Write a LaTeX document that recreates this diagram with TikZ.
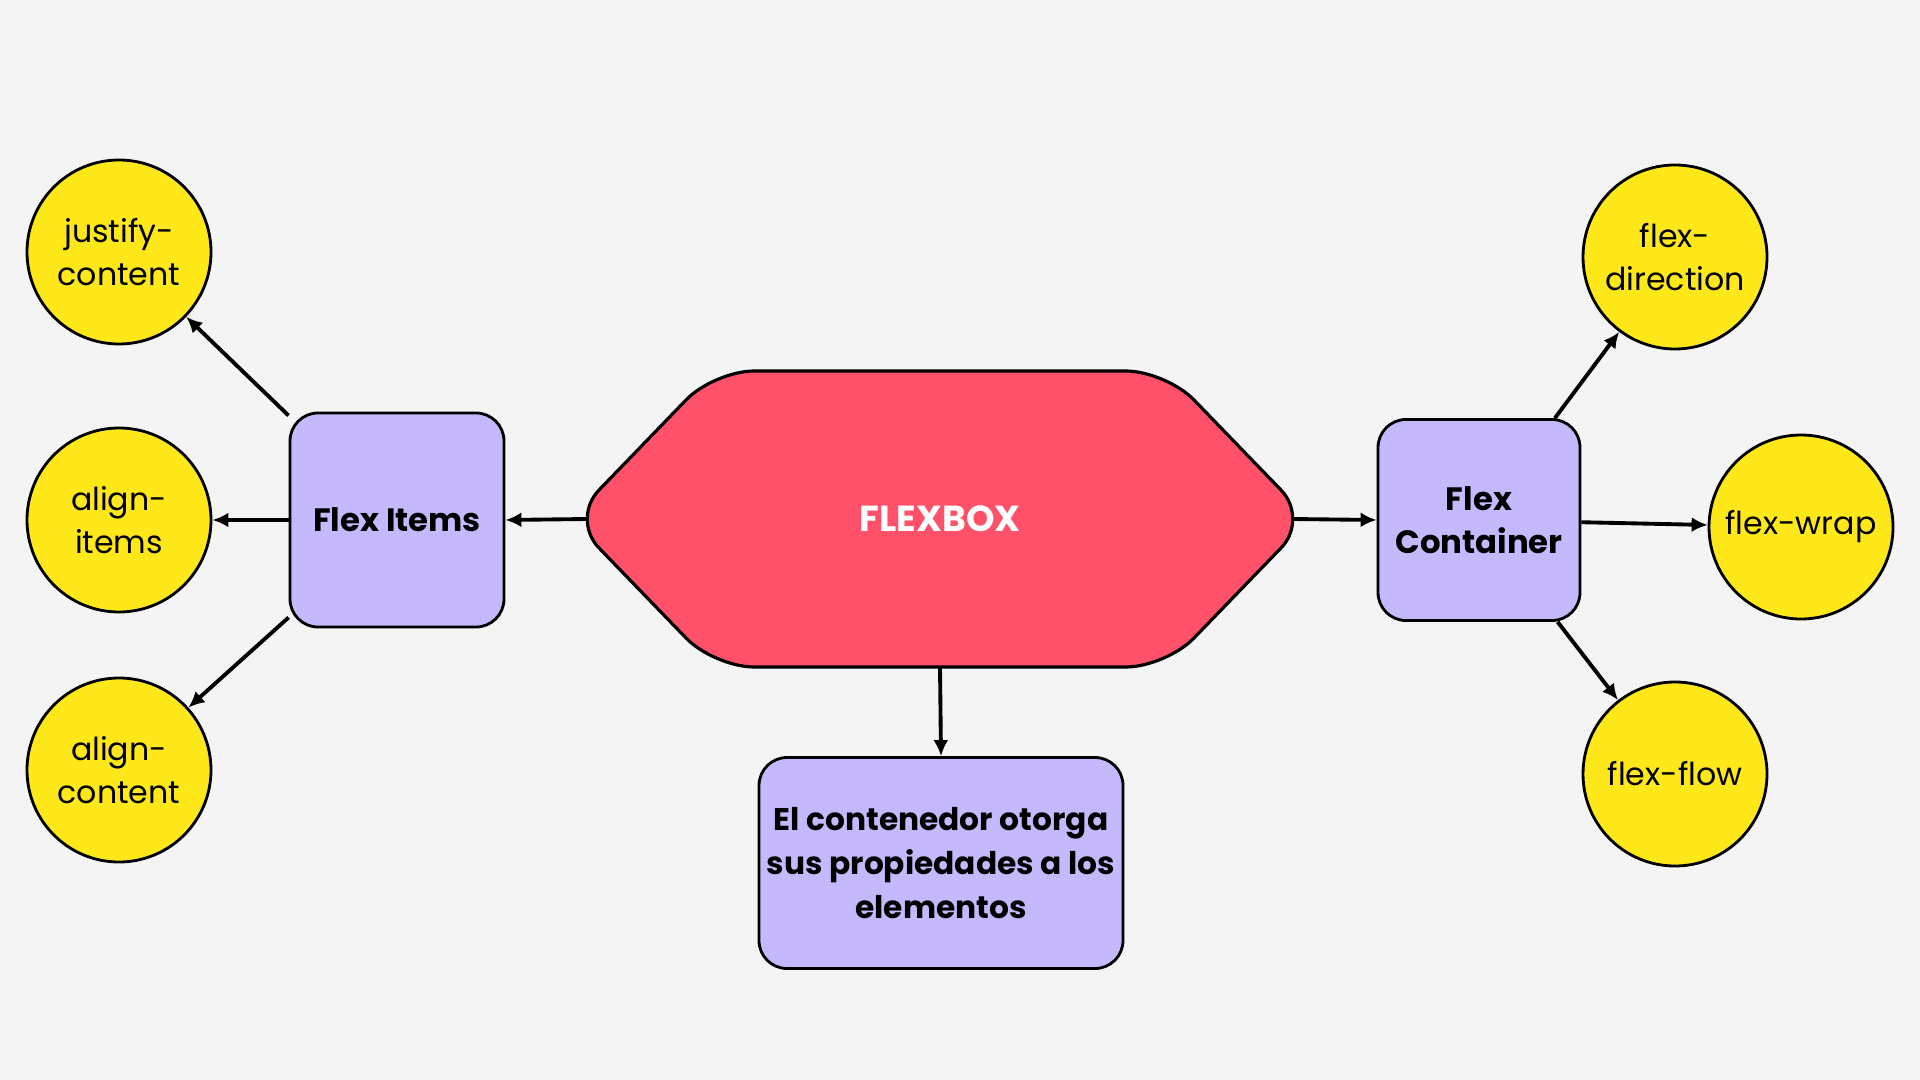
\documentclass[tikz,border=0pt]{standalone}
\usepackage{fontspec}
\setmainfont{Poppins}
\usetikzlibrary{arrows.meta}
\definecolor{bgc}{HTML}{F4F4F4}
\definecolor{hexred}{HTML}{FF516A}
\definecolor{lav}{HTML}{C5B8FC}
\definecolor{yel}{HTML}{FFE81A}
\tikzset{
    prop/.style={circle, draw, fill=yel, line width=0.8pt, minimum size=1.84cm,
    	inner sep=0pt, align=center, font=\fontsize{9}{12.2}\selectfont}
}
\tikzset{
    box/.style={rectangle, draw, fill=lav, line width=0.8pt, rounded corners=0.28cm,
    	align=center, font=\fontsize{9.2}{12.3}\selectfont\bfseries}
}
\tikzset{
	every edge/.append style={line width=1.1pt, -{Latex[length=1.6mm,width=1.5mm]}}
}

\begin{document}
\begin{tikzpicture}
	\useasboundingbox (0cm, 0cm) rectangle (19.2cm, -10.8cm);
	\fill [bgc] (0cm, 0cm) rectangle (19.2cm, -10.8cm);
	
	\draw [fill=hexred, line width=0.9pt, rounded corners=0.4cm]
		(5.71cm, -5.19cm) -- (7.14cm, -3.71cm) -- (11.66cm, -3.71cm)
		-- (13.09cm, -5.19cm) -- (11.66cm, -6.67cm) -- (7.14cm, -6.67cm) -- cycle;
	\node (flexbox) [minimum width=7.04cm, minimum height=2.96cm, text=white,
		font=\fontsize{10.3}{12}\selectfont\bfseries] at (9.4cm, -5.19cm) {FLEXBOX};
	
	\node (items) [box, minimum width=2.14cm, minimum height=2.14cm] at (3.97cm, -5.2cm) {Flex Items};
	\node (container) [box, minimum width=2.02cm, minimum height=2.01cm] at (14.79cm, -5.2cm) {Flex\\Container};
	\node (note) [box, inner xsep=0.5pt, minimum width=3.64cm, minimum height=2.11cm,
		font=\fontsize{8.9}{12.4}\selectfont\bfseries] at (9.41cm, -8.63cm)
		{El contenedor otorga\\sus propiedades a los\\elementos};
	
	\node (jc) [prop] at (1.19cm, -2.52cm) {justify-\\content};
	\node (ai) [prop] at (1.19cm, -5.2cm) {align-\\items};
	\node (ac) [prop] at (1.19cm, -7.7cm) {align-\\content};
	
	\node (fd) [prop] at (16.75cm, -2.57cm) {flex-\\direction};
	\node (fw) [prop] at (18.01cm, -5.27cm) {flex-wrap};
	\node (ff) [prop] at (16.75cm, -7.74cm) {flex-flow};
	
	\draw (flexbox.west) edge (items.east); \draw (flexbox.east) edge (container.west);
	\draw (flexbox.south) edge (note.north);
	\draw (items) edge (jc); \draw (items) edge (ai); \draw (items) edge (ac);
	\draw (container) edge (fd); \draw (container) edge (fw); \draw (container) edge (ff);
\end{tikzpicture}
\end{document}
